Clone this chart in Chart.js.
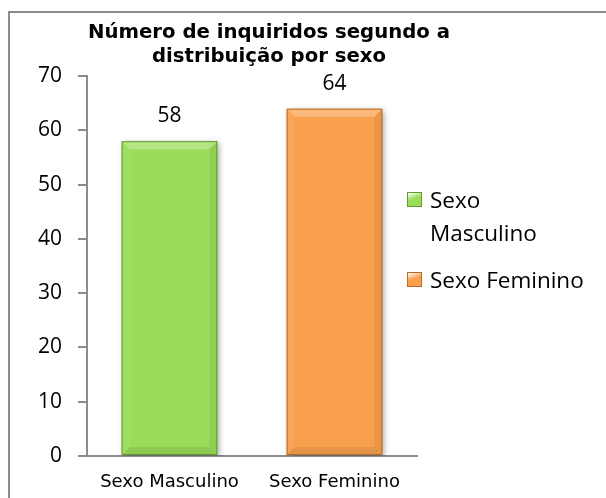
<!DOCTYPE html>
<html lang="pt">
<head>
<meta charset="utf-8">
<script src="https://cdn.jsdelivr.net/npm/chart.js@4"></script>
<style>
    body { margin: 0; background: #fff; }
    #wrap { position: relative; width: 606px; height: 498px; overflow: hidden; }
    #moldura { position: absolute; left: 8px; top: 11px; width: 700px; height: 600px; border-left: 2px solid #8c8c8c; border-top: 2px solid #8c8c8c; }
    #grafico { position: absolute; left: 0; top: 0; }
    #legenda { position: absolute; left: 0; top: 0; font-family: "Open Sans", sans-serif; font-size: 22.5px; color: #000; }
    .leg-item { position: absolute; left: 430px; line-height: 33px; white-space: nowrap; }
    .leg-cor { position: absolute; left: -23px; width: 15px; height: 15px; box-sizing: border-box; }
</style>
</head>
<body>
<div id="wrap">
    <div id="moldura"></div>
    <canvas id="grafico" width="606" height="498"></canvas>
    <div id="legenda"></div>
</div>
<script>
// dados do grafico
const titulo = ["Número de inquiridos segundo a", "distribuição por sexo"];
const categorias = ["Sexo Masculino", "Sexo Feminino"];
const valores = [58, 64];
const rotulosLegenda = [["Sexo", "Masculino"], ["Sexo Feminino"]];
const ticksY = [0, 10, 20, 30, 40, 50, 60, 70];

const cores = ["#9bdc5a", "#f9a04f"];
const coresBorda = ["#5f9a2c", "#b76c26"];

//legenda em html
const legenda = document.getElementById("legenda");
const topos = [183, 263];
rotulosLegenda.forEach((linhas, i) => {
    const item = document.createElement("div");
    item.className = "leg-item";
    item.style.top = topos[i] + "px";
    item.innerHTML = linhas.join("<br>");
    const cor = document.createElement("span");
    cor.className = "leg-cor";
    cor.style.top = "9px";
    cor.style.background = `linear-gradient(160deg, #fff8 0%, ${cores[i]} 45%, ${cores[i]} 100%)`;
    cor.style.border = `1px solid ${coresBorda[i]}`;
    item.appendChild(cor);
    legenda.appendChild(item);
});

// sombra das barras
const sombra = {
    id: "sombra",
    beforeDatasetDraw(chart) {
        const ctx = chart.ctx;
        ctx.save();
        ctx.shadowColor = "rgba(0,0,0,0.35)";
        ctx.shadowBlur = 6;
        ctx.shadowOffsetX = 2;
        ctx.shadowOffsetY = 2;
    },
    afterDatasetDraw(chart) {
        chart.ctx.restore();
    }
};

// bisel + valores em cima das barras
const bisel = {
    id: "bisel",
    afterDatasetsDraw(chart) {
        const ctx = chart.ctx;
        const poly = (pts, fill) => {
            ctx.beginPath();
            ctx.moveTo(pts[0][0], pts[0][1]);
            pts.slice(1).forEach(p => ctx.lineTo(p[0], p[1]));
            ctx.closePath();
            ctx.fillStyle = fill;
            ctx.fill();
        };
        chart.getDatasetMeta(0).data.forEach((bar, i) => {
            const { x, y, base, width } = bar.getProps(["x", "y", "base", "width"], true);
            const l = x - width / 2, r = x + width / 2, t = y, b = base;
            const s = 8;
            ctx.save();
            poly([[l, t], [r, t], [r - s, t + s], [l + s, t + s]], "rgba(255,255,255,0.25)");
            poly([[l, t], [l + s, t + s], [l + s, b - s], [l, b]], "rgba(255,255,255,0.06)");
            poly([[r, t], [r, b], [r - s, b - s], [r - s, t + s]], "rgba(0,0,0,0.06)");
            poly([[l, b], [r, b], [r - s, b - s], [l + s, b - s]], "rgba(0,0,0,0.08)");
            ctx.strokeStyle = coresBorda[i];
            ctx.lineWidth = 1;
            ctx.strokeRect(l + 0.5, t + 0.5, width - 1, b - t - 1);

            ctx.fillStyle = "#000";
            ctx.font = '21px "Open Sans", sans-serif';
            ctx.textAlign = "center";
            ctx.textBaseline = "alphabetic";
            ctx.fillText(String(valores[i]), x, t - 19);
            ctx.restore();
        });
    }
};

const cinza = "#8c8c8c";

new Chart(document.getElementById("grafico"), {
    type: "bar",
    data: {
        labels: categorias,
        datasets: [{
            label: "Número de inquiridos",
            data: valores,
            backgroundColor: cores,
            borderWidth: 0,
            barPercentage: 0.58,
            categoryPercentage: 1
        }]
    },
    options: {
        responsive: false,
        animation: false,
        layout: { padding: { left: 0, right: 68, top: 0, bottom: 0 } },
        plugins: {
            legend: { display: false },
            tooltip: { enabled: false },
            title: {
                display: true,
                text: titulo,
                color: "#000",
                font: { family: "DejaVu Sans", size: 19.7, weight: "bold", lineHeight: 1.22 },
                padding: { top: 21, bottom: 7 }
            }
        },
        scales: {
            x: {
                afterFit: s => { s.height = 42; },
                grid: { display: false, drawTicks: false },
                border: { display: true, color: cinza, width: 2 },
                ticks: { color: "#000", font: { family: "DejaVu Sans", size: 18 }, padding: 16 }
            },
            y: {
                min: ticksY[0],
                max: ticksY[ticksY.length - 1],
                afterBuildTicks: s => { s.ticks = ticksY.map(v => ({ value: v })); },
                afterFit: s => { s.width = 87; },
                grid: { drawOnChartArea: false, drawTicks: true, tickLength: 9, color: cinza, lineWidth: 2 },
                border: { display: true, color: cinza, width: 2 },
                ticks: { color: "#000", font: { family: "Open Sans", size: 21 }, padding: 16 }
            },
            y2: {
                position: "right",
                display: true,
                afterFit: s => { s.width = 121; },
                grid: { display: false },
                border: { display: false },
                ticks: { display: false }
            }
        }
    },
    plugins: [sombra, bisel]
});
</script>
</body>
</html>
